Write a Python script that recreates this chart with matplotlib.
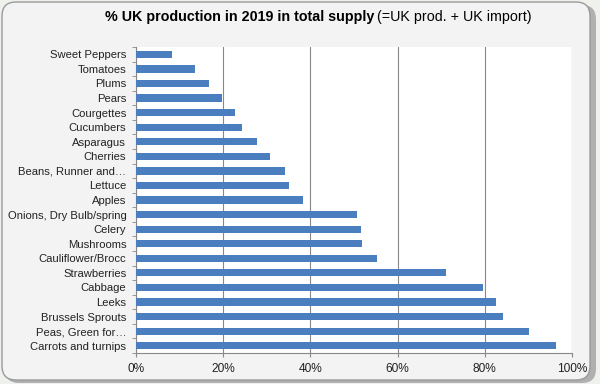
import matplotlib.pyplot as plt
from matplotlib.patches import FancyBboxPatch
from matplotlib.transforms import IdentityTransform
import numpy as np

plt.rcParams['font.family'] = ['Liberation Sans', 'DejaVu Sans']

# Données
products = ["Sweet Peppers", "Tomatoes", "Plums", "Pears", "Courgettes",
            "Cucumbers", "Asparagus", "Cherries", "Beans, Runner and\u2026",
            "Lettuce", "Apples", "Onions, Dry Bulb/spring", "Celery",
            "Mushrooms", "Cauliflower/Brocc", "Strawberries", "Cabbage",
            "Leeks", "Brussels Sprouts", "Peas, Green for\u2026",
            "Carrots and turnips"]
share = [8.3, 13.5, 16.7, 19.7, 22.7, 24.3, 27.7, 30.7, 34.2, 35.1, 38.3,
         50.7, 51.5, 51.8, 55.2, 71.1, 79.7, 82.6, 84.2, 90.1, 96.4]
xticks = [0, 20, 40, 60, 80, 100]

# Le graphique
fig = plt.figure(figsize=(6, 3.84), dpi=100, facecolor='#eef1ec')

## Cadre arrondi avec ombre
shadow = FancyBboxPatch((5, 1), 591, 378, boxstyle="round,pad=0,rounding_size=14",
                        transform=IdentityTransform(), facecolor='#b0b0b0',
                        edgecolor='none', zorder=0)
frame = FancyBboxPatch((2, 4), 588, 378, boxstyle="round,pad=0,rounding_size=14",
                       transform=IdentityTransform(), facecolor='#f3f3f3',
                       edgecolor='#9a9a9a', linewidth=1, zorder=1)
fig.patches.extend([shadow, frame])

ax = fig.add_axes([136/600, 31/384, 436/600, 306/384])
ax.set_facecolor('white')
ax.set_zorder(2)

y = np.arange(len(products))
ax.barh(y, share, height=0.5, color='#4a7ebf', zorder=3)

ax.set_ylim(len(products) - 0.5, -0.5)
ax.set_yticks(y)
ax.set_yticklabels(products, fontsize=8.1, color='#222222')
ax.set_yticks(np.arange(len(products) + 1) - 0.5, minor=True)
ax.tick_params(axis='y', which='major', length=0, pad=7)
ax.tick_params(axis='y', which='minor', length=3, color='#888888')

ax.set_xlim(0, 100)
ax.set_xticks(xticks)
ax.set_xticklabels([f"{v}%" for v in xticks], fontsize=8.6, color='#222222')
ax.tick_params(axis='x', length=3, color='#888888', pad=4)

ax.grid(axis='x', color='#888888', linewidth=0.8, zorder=1)
for side in ['top', 'right']:
    ax.spines[side].set_visible(False)
for side in ['left', 'bottom']:
    ax.spines[side].set_color('#888888')
    ax.spines[side].set_linewidth(0.8)

## Titre (partie grasse + partie normale)
fig.text(374/600, 1 - 17/384, "% UK production in 2019 in total supply",
         ha='right', va='center', fontsize=10.3, fontweight='bold', zorder=5)
fig.text(377/600, 1 - 17/384, "(=UK prod. + UK import)",
         ha='left', va='center', fontsize=10.3, zorder=5)

fig.savefig("out.png", dpi=100, facecolor=fig.get_facecolor())
